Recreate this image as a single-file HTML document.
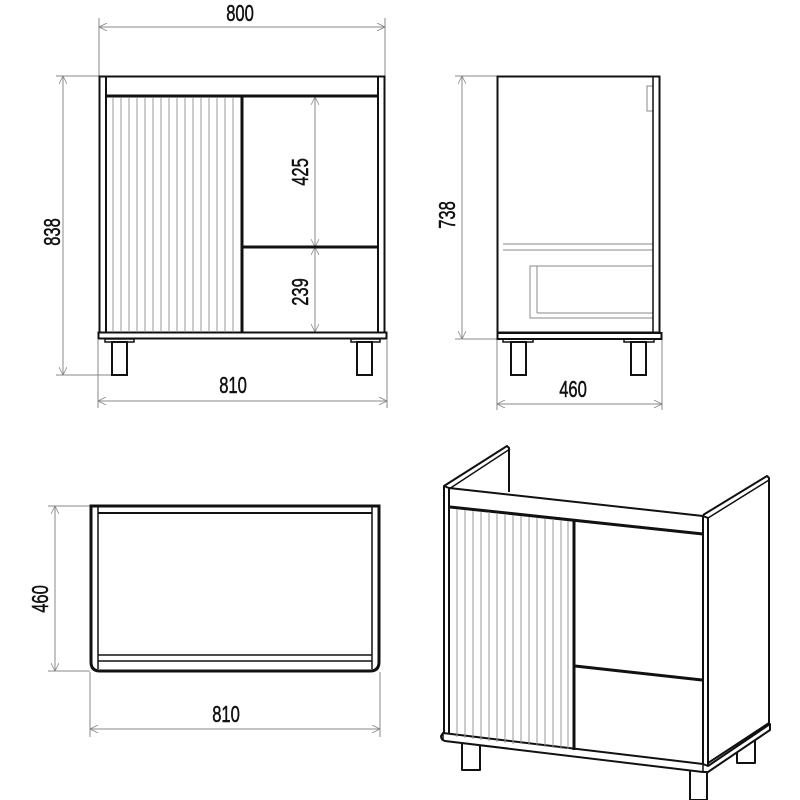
<!DOCTYPE html>
<html><head><meta charset="utf-8"><style>html,body{margin:0;padding:0;background:#fff}svg{display:block}text{font-family:"Liberation Sans",sans-serif;font-size:23px;fill:#111;stroke:#111;stroke-width:0.5}</style></head><body>
<svg width="800" height="800" viewBox="0 0 800 800" xmlns="http://www.w3.org/2000/svg">
<defs>
<marker id="a" viewBox="0 0 10 10" refX="10" refY="5" markerWidth="10" markerHeight="8" orient="auto-start-reverse" markerUnits="userSpaceOnUse"><path d="M0,0L10,5L0,10" fill="none" stroke="#888" stroke-width="1"/></marker>
</defs>
<g stroke="#888" stroke-width="1" fill="none">
<line x1="99" y1="18" x2="99" y2="76"/><line x1="385" y1="18" x2="385" y2="76"/>
<line x1="99" y1="27" x2="385" y2="27" marker-start="url(#a)" marker-end="url(#a)"/>
<line x1="56" y1="76" x2="99" y2="76"/><line x1="56" y1="375" x2="112" y2="375"/>
<line x1="63" y1="76" x2="63" y2="375" marker-start="url(#a)" marker-end="url(#a)"/>
<line x1="315" y1="97" x2="315" y2="247" marker-start="url(#a)" marker-end="url(#a)"/>
<line x1="315" y1="247" x2="315" y2="332" marker-start="url(#a)" marker-end="url(#a)"/>
<line x1="98" y1="340" x2="98" y2="408"/><line x1="387" y1="340" x2="387" y2="408"/>
<line x1="98" y1="401" x2="387" y2="401" marker-start="url(#a)" marker-end="url(#a)"/>
<line x1="455" y1="76" x2="497" y2="76"/><line x1="455" y1="339" x2="497" y2="339"/>
<line x1="462" y1="76" x2="462" y2="339" marker-start="url(#a)" marker-end="url(#a)"/>
<line x1="497" y1="340" x2="497" y2="410"/><line x1="662" y1="340" x2="662" y2="410"/>
<line x1="497" y1="404" x2="662" y2="404" marker-start="url(#a)" marker-end="url(#a)"/>
<line x1="48" y1="506" x2="90" y2="506"/><line x1="48" y1="671" x2="90" y2="671"/>
<line x1="55" y1="506" x2="55" y2="671" marker-start="url(#a)" marker-end="url(#a)"/>
<line x1="90" y1="672" x2="90" y2="737"/><line x1="380" y1="672" x2="380" y2="737"/>
<line x1="90" y1="729" x2="380" y2="729" marker-start="url(#a)" marker-end="url(#a)"/>
<line x1="503" y1="244" x2="653" y2="244"/><line x1="503" y1="250" x2="653" y2="250"/>
<rect x="530" y="266" width="123" height="52"/><line x1="537" y1="266" x2="537" y2="313"/><line x1="537" y1="313" x2="653" y2="313"/>
<rect x="647" y="86" width="6" height="25"/>
</g>
<g text-anchor="middle">
<text transform="translate(240,21) scale(0.72,1)">800</text>
<text transform="translate(233,393) scale(0.72,1)">810</text>
<text transform="translate(573,397) scale(0.72,1)">460</text>
<text transform="translate(226,722) scale(0.72,1)">810</text>
<text transform="translate(60,232) rotate(-90) scale(0.72,1)">838</text>
<text transform="translate(308,172) rotate(-90) scale(0.72,1)">425</text>
<text transform="translate(308,292) rotate(-90) scale(0.72,1)">239</text>
<text transform="translate(455,215) rotate(-90) scale(0.72,1)">738</text>
<text transform="translate(48,599) rotate(-90) scale(0.72,1)">460</text>
</g>
<g stroke="#111" fill="none">
<rect x="99.5" y="76.5" width="285" height="256" stroke-width="2"/>
<line x1="106" y1="77" x2="106" y2="332" stroke-width="2"/>
<line x1="378" y1="77" x2="378" y2="332" stroke-width="2"/>
<line x1="106" y1="96" x2="378" y2="96" stroke-width="3"/>
<line x1="242" y1="97" x2="242" y2="332" stroke-width="3"/>
<line x1="243" y1="247" x2="377" y2="247" stroke-width="3"/>
<rect x="98.5" y="332.5" width="288" height="6" stroke-width="2"/>
<rect x="105" y="339" width="29" height="3" stroke-width="1.5"/><rect x="351" y="339" width="29" height="3" stroke-width="1.5"/>
<rect x="112" y="342" width="15" height="33" stroke-width="2"/><rect x="357" y="342" width="15" height="33" stroke-width="2"/>
</g>
<g stroke="#999" stroke-width="1">
<line x1="113" y1="98" x2="113" y2="332"/><line x1="121" y1="98" x2="121" y2="332"/><line x1="129" y1="98" x2="129" y2="332"/><line x1="137" y1="98" x2="137" y2="332"/><line x1="145" y1="98" x2="145" y2="332"/><line x1="153" y1="98" x2="153" y2="332"/><line x1="161" y1="98" x2="161" y2="332"/><line x1="169" y1="98" x2="169" y2="332"/><line x1="177" y1="98" x2="177" y2="332"/><line x1="185" y1="98" x2="185" y2="332"/><line x1="193" y1="98" x2="193" y2="332"/><line x1="201" y1="98" x2="201" y2="332"/><line x1="209" y1="98" x2="209" y2="332"/><line x1="217" y1="98" x2="217" y2="332"/><line x1="225" y1="98" x2="225" y2="332"/><line x1="233" y1="98" x2="233" y2="332"/>
</g>
<g stroke="#111" fill="none">
<rect x="497.5" y="76.5" width="162" height="256" stroke-width="2"/>
<line x1="653" y1="77" x2="653" y2="332" stroke-width="1.5"/>
<rect x="497.5" y="333" width="164" height="6" stroke-width="2"/>
<rect x="503" y="339" width="30" height="3" stroke-width="1.5"/><rect x="624" y="339" width="30" height="3" stroke-width="1.5"/>
<rect x="511" y="342" width="15" height="33" stroke-width="2"/><rect x="631" y="342" width="15" height="33" stroke-width="2"/>
</g>
<g stroke="#111" fill="none">
<path d="M91,506 H379 V662 Q379,671 370,671 H100 Q91,671 91,662 Z" stroke-width="3"/>
<line x1="98" y1="507" x2="98" y2="669" stroke-width="1.5"/><line x1="372" y1="507" x2="372" y2="669" stroke-width="1.5"/>
<line x1="98" y1="513" x2="372" y2="513" stroke-width="2"/>
<line x1="98" y1="655" x2="372" y2="655" stroke-width="1.5"/><line x1="98" y1="661" x2="372" y2="661" stroke-width="1.5"/>
</g>
<g stroke="#111" fill="#fff" stroke-linejoin="round">
<path d="M444,486 L507,446 L509,448 L509,492" stroke-width="2" fill="none"/>
<path d="M449,489 L510,449" stroke-width="1.5" fill="none"/>
<rect x="737" y="738" width="18" height="25" stroke-width="2"/>
<path d="M703,515 L767,476 L769,478 L769,723 L705,765" stroke-width="2"/>
<path d="M708,518 L769,480" stroke-width="1.5" fill="none"/>
<rect x="462" y="743" width="18" height="27" stroke-width="2"/>
<rect x="690" y="768" width="17" height="32" stroke-width="2"/>
<path d="M444,486 L449,488 L449,735 L444,735 Z" stroke-width="2"/>
<path d="M449,488 L703,516 L703,766 L449,736 Z" stroke-width="2"/>
<path d="M703,516 L708,518 L708,766 L703,766 Z" stroke-width="2"/>
<path d="M443,733 L703,764 L708,766 L770,724 L770,730 L708,772 L703,772 L445,741 Q441,740 441,736 Z" stroke-width="2"/>
<line x1="443" y1="733" x2="443" y2="740" stroke-width="1.5"/>
<line x1="703" y1="764" x2="703" y2="772" stroke-width="1.5"/>
<line x1="450" y1="507" x2="703" y2="534" stroke-width="3"/>
<line x1="574" y1="521" x2="574" y2="750" stroke-width="3"/>
<line x1="575" y1="666" x2="702" y2="680" stroke-width="3"/>
</g>
<g stroke="#999" stroke-width="1">
<line x1="457" y1="509" x2="457" y2="737"/><line x1="465" y1="510" x2="465" y2="738"/><line x1="473" y1="511" x2="473" y2="739"/><line x1="481" y1="512" x2="481" y2="740"/><line x1="489" y1="512" x2="489" y2="741"/><line x1="497" y1="513" x2="497" y2="742"/><line x1="505" y1="514" x2="505" y2="743"/><line x1="513" y1="515" x2="513" y2="744"/><line x1="521" y1="516" x2="521" y2="744"/><line x1="529" y1="517" x2="529" y2="745"/><line x1="537" y1="518" x2="537" y2="746"/><line x1="545" y1="519" x2="545" y2="747"/><line x1="553" y1="519" x2="553" y2="748"/><line x1="561" y1="520" x2="561" y2="749"/><line x1="568" y1="521" x2="568" y2="749"/>
</g>
</svg>
</body></html>
